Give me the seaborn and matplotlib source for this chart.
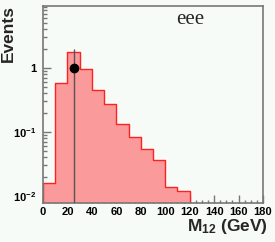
import numpy as np
import pandas as pd
import matplotlib
matplotlib.use("Agg")
import matplotlib.pyplot as plt
import seaborn as sns
from matplotlib.ticker import MultipleLocator, FixedLocator, FixedFormatter, LogLocator, NullFormatter

# ---- data ----
bin_edges = list(range(0, 190, 10))
bin_centers = [e + 5 for e in bin_edges[:-1]]
events = [0.016, 0.58, 1.78, 0.96, 0.45, 0.27, 0.133, 0.083, 0.055, 0.037,
          0.014, 0.012, 0, 0, 0, 0, 0, 0]
point_x = [25]
point_y = [1]
point_err = [1]
ytick_vals = [0.01, 0.1, 1]
ytick_labels = [r"$\mathbf{10^{-2}}$", r"$\mathbf{10^{-1}}$", "1"]
title_text = "eee"

sns.set_theme(style="white")
bg = "#f6fbf8"
plt.rcParams["font.family"] = ["Liberation Sans", "DejaVu Sans"]
plt.rcParams["mathtext.fontset"] = "custom"
plt.rcParams["mathtext.bf"] = "Liberation Sans:bold"
plt.rcParams["mathtext.rm"] = "Liberation Sans:bold"
plt.rcParams["mathtext.it"] = "Liberation Sans:bold"

fig = plt.figure(figsize=(2.75, 2.42), dpi=100, facecolor=bg)
ax = fig.add_axes([43 / 275, 1 - 202.5 / 242, 220 / 275, 196.5 / 242])
ax.set_facecolor(bg)

df = pd.DataFrame({"mass": bin_centers, "events": events})
ax.set_yscale("log", nonpositive="clip")
sns.histplot(data=df, x="mass", weights="events", bins=bin_edges,
             element="step", fill=True, ax=ax,
             facecolor="#fb9a9a", edgecolor="#ff2020", linewidth=1.0, alpha=1)

ax.errorbar(point_x, point_y, yerr=[point_err, point_err], fmt="o",
            color="black", ecolor="#555555", elinewidth=1.0,
            markersize=6, capsize=0, zorder=5)

ax.set_xlim(0, 180)
ax.set_ylim(10 ** (-2 - 6.5 / 64), 10 ** (62 / 64))

# ticks
ax.xaxis.set_major_locator(MultipleLocator(20))
ax.xaxis.set_minor_locator(MultipleLocator(5))
ax.yaxis.set_major_locator(FixedLocator(ytick_vals))
ax.yaxis.set_major_formatter(FixedFormatter(ytick_labels))
ax.yaxis.set_minor_locator(LogLocator(base=10, subs=np.arange(2, 10)))
ax.yaxis.set_minor_formatter(NullFormatter())
ax.tick_params(axis="both", which="both", direction="in", colors="#777777",
               labelcolor="black", bottom=True, left=True, top=False, right=False)
ax.tick_params(axis="y", which="major", length=6, width=1, pad=5, labelsize=8)
ax.tick_params(axis="y", which="minor", length=3, width=1)
ax.tick_params(axis="x", which="major", length=5.5, width=1, pad=3, labelsize=8)
ax.tick_params(axis="x", which="minor", length=2.5, width=1)
for lab in ax.get_xticklabels() + ax.get_yticklabels():
    lab.set_fontweight("bold")

for sp in ax.spines.values():
    sp.set_color("#777777")
    sp.set_linewidth(1.2)

ax.set_xlabel(r"$\mathbf{M_{12}}$ (GeV)", fontsize=12.5, fontweight="bold", ha="right")
ax.xaxis.set_label_coords(1.023, -0.075)
ax.set_ylabel("Events", fontsize=12.5, fontweight="bold", ha="right")
ax.yaxis.set_label_coords(-0.125, 1.005)

ax.text(109, 10 ** (44 / 64), title_text, fontsize=15,
        family=["Liberation Serif", "DejaVu Serif"], va="baseline", ha="left")

fig.savefig("out.png", dpi=100, facecolor=bg)
